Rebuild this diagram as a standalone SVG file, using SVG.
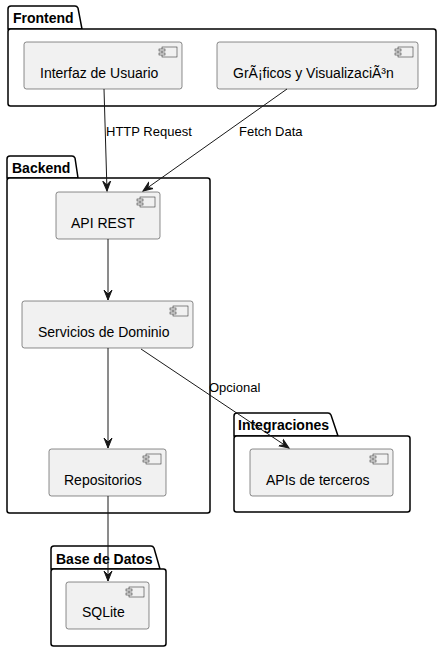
<svg xmlns="http://www.w3.org/2000/svg" width="441" height="652" viewBox="0 0 441 652">
<defs>
<style>
.pkg{fill:#FFFFFF;stroke:#000000;stroke-width:1.5}
.comp{fill:#F1F1F1;stroke:#181818;stroke-width:0.5}
.ic{fill:#F1F1F1;stroke:#181818;stroke-width:0.5}
.pt{font-family:"Liberation Sans",Arial,sans-serif;font-size:14px;font-weight:bold;fill:#000}
.ct{font-family:"Liberation Sans",Arial,sans-serif;font-size:14px;fill:#000}
.et{font-family:"Liberation Sans",Arial,sans-serif;font-size:13px;fill:#000}
.edge{fill:none;stroke:#181818;stroke-width:1}
</style>
<marker id="ah" viewBox="0 0 12 12" refX="10" refY="5" markerWidth="12" markerHeight="12" markerUnits="userSpaceOnUse" orient="auto">
<path d="M10,5 L0,1 L4,5 L0,9 Z" fill="#181818" stroke="#181818" stroke-width="1"/>
</marker>
<symbol id="icon" overflow="visible">
<rect x="3" y="0" width="15" height="10" class="ic"/>
<rect x="0" y="2" width="6" height="2" class="ic"/>
<rect x="0" y="6" width="6" height="2" class="ic"/>
</symbol>
</defs>

<g id="Frontend">
<path class="pkg" d="M8,29 L8,9 Q8,6 11,6 L75,6 Q77,6 78,8 L82,29 Z"/>
<rect class="pkg" x="8" y="29" width="428" height="77" rx="2.5"/>
<text class="pt" x="13" y="23">Frontend</text>
</g>
<g id="Backend">
<path class="pkg" d="M7,178 L7,159 Q7,156 10,156 L72,156 Q74,156 75,158 L78,178 Z"/>
<rect class="pkg" x="7" y="178" width="203" height="335" rx="2.5"/>
<text class="pt" x="12" y="173">Backend</text>
</g>
<g id="Integraciones">
<path class="pkg" d="M234,436 L234,416 Q234,413 237,413 L328,413 Q330,413 331,415 L338,436 Z"/>
<rect class="pkg" x="234" y="436" width="176" height="76" rx="2.5"/>
<text class="pt" x="238" y="430">Integraciones</text>
</g>
<g id="BaseDeDatos">
<path class="pkg" d="M51,569 L51,549 Q51,546 54,546 L151,546 Q153,546 154,548 L160,569 Z"/>
<rect class="pkg" x="51" y="569" width="115" height="77" rx="2.5"/>
<text class="pt" x="56" y="564">Base de Datos</text>
</g>

<g id="InterfazDeUsuario">
<rect class="comp" x="24" y="42" width="158" height="47" rx="2.5"/>
<use href="#icon" x="159" y="47"/>
<text class="ct" x="40" y="78">Interfaz de Usuario</text>
</g>
<g id="GraficosYVisualizacion">
<rect class="comp" x="217" y="42" width="201" height="47" rx="2.5"/>
<use href="#icon" x="395" y="47"/>
<text class="ct" x="233" y="78">GrÃ¡ficos y VisualizaciÃ³n</text>
</g>
<g id="APIREST">
<rect class="comp" x="56" y="192" width="104" height="47" rx="2.5"/>
<use href="#icon" x="137" y="197"/>
<text class="ct" x="71" y="228">API REST</text>
</g>
<g id="ServiciosDeDominio">
<rect class="comp" x="22" y="301" width="171" height="47" rx="2.5"/>
<use href="#icon" x="170" y="306"/>
<text class="ct" x="38" y="337">Servicios de Dominio</text>
</g>
<g id="Repositorios">
<rect class="comp" x="49" y="449" width="117" height="47" rx="2.5"/>
<use href="#icon" x="143" y="454"/>
<text class="ct" x="64" y="485">Repositorios</text>
</g>
<g id="APIsDeTerceros">
<rect class="comp" x="250" y="449" width="143" height="47" rx="2.5"/>
<use href="#icon" x="370" y="454"/>
<text class="ct" x="266" y="485">APIs de terceros</text>
</g>
<g id="SQLite">
<rect class="comp" x="66" y="582" width="83" height="47" rx="2.5"/>
<use href="#icon" x="126" y="587"/>
<text class="ct" x="82" y="617">SQLite</text>
</g>

<g id="connectors">
<line class="edge" x1="104" y1="89" x2="107" y2="191" marker-end="url(#ah)"/>
<text class="et" x="106" y="136">HTTP Request</text>
<line class="edge" x1="287" y1="89" x2="143" y2="191" marker-end="url(#ah)"/>
<text class="et" x="239" y="136">Fetch Data</text>
<line class="edge" x1="108" y1="239" x2="108" y2="300" marker-end="url(#ah)"/>
<line class="edge" x1="108" y1="348" x2="108" y2="448" marker-end="url(#ah)"/>
<line class="edge" x1="141" y1="349" x2="289" y2="448" marker-end="url(#ah)"/>
<text class="et" x="209" y="392">Opcional</text>
<line class="edge" x1="108" y1="496" x2="108" y2="581" marker-end="url(#ah)"/>
</g>
</svg>
